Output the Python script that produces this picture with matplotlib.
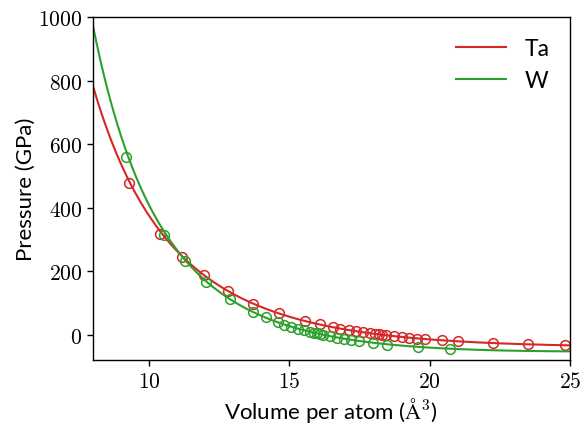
import numpy as np
import matplotlib
matplotlib.use("Agg")
import matplotlib.pyplot as plt
from matplotlib.ticker import FuncFormatter

plt.rcParams['mathtext.fontset'] = 'cm'

# Data
ta_v = [9.29, 10.39, 11.17, 11.96, 12.81, 13.69, 14.62, 15.57, 16.08, 16.56, 16.82,
        17.12, 17.36, 17.63, 17.89, 18.07, 18.19, 18.30, 18.46, 18.73, 19.00, 19.27,
        19.56, 19.82, 20.43, 21.02, 22.24, 23.50, 24.82]
ta_p = [479, 318, 246, 187, 138, 97, 68, 44, 34, 24, 19,
        16, 11.5, 8, 5, 3, 1, 0, -2, -5, -8, -10,
        -13, -14, -18, -20, -26, -29, -31]
w_v = [9.17, 10.55, 11.29, 12.04, 12.87, 13.70, 14.17, 14.60, 14.82, 15.06, 15.30,
       15.54, 15.75, 15.87, 15.99, 16.11, 16.20, 16.46, 16.70, 16.96, 17.21, 17.49,
       17.99, 18.49, 19.58, 20.71]
w_p = [559, 315, 232, 166, 113, 71, 56, 40, 32, 26, 19,
       14, 10, 6, 5, 2, 0, -5, -9, -13, -16, -20,
       -26, -31, -39, -44]

# Birch-Murnaghan fit parameters (V0 [A^3], B0 [GPa], B0')
ta_fit = (18.3, 195.0, 3.85)
w_fit = (16.2, 300.0, 4.25)

labels = ["Ta", "W"]
colors = ["#d62728", "#2ca02c"]


def birch_murnaghan(v, v0, b0, b0p):
    x = (v0 / v) ** (1.0 / 3.0)
    return 1.5 * b0 * (x ** 7 - x ** 5) * (1 + 0.75 * (b0p - 4) * (x ** 2 - 1))


fig = plt.figure(figsize=(5.84, 4.31), dpi=100)
ax = fig.add_axes([0.159, 0.162, 0.817, 0.796])

vgrid = np.linspace(8, 25, 400)
for (vv, pp, fit, lab, col) in [(ta_v, ta_p, ta_fit, labels[0], colors[0]),
                                 (w_v, w_p, w_fit, labels[1], colors[1])]:
    ax.plot(vgrid, birch_murnaghan(vgrid, *fit), color=col, lw=1.5, label=lab)
    ax.plot(vv, pp, 'o', mfc='none', mec=col, ms=7, mew=1.1)

ax.set_xlim(8, 25)
ax.set_ylim(-80, 1000)
ax.set_xticks([10, 15, 20, 25])
ax.set_yticks([0, 200, 400, 600, 800, 1000])

fmt = FuncFormatter(lambda v, p: r"$%d$" % v)
ax.xaxis.set_major_formatter(fmt)
ax.yaxis.set_major_formatter(fmt)
ax.tick_params(labelsize=15.5, length=4, width=1, direction='out', pad=3.5)

lab_font = dict(family='Lato', size=16)
ax.set_xlabel(r"Volume per atom ($\mathrm{\AA}^3$)", fontdict=lab_font, labelpad=3)
ax.set_ylabel("Pressure (GPa)", fontdict=lab_font, labelpad=2)

leg = ax.legend(loc='upper right', frameon=False, prop=dict(family='Lato', size=16.5),
                handlelength=2.2, borderaxespad=0.5, labelspacing=0.5)

for s in ax.spines.values():
    s.set_linewidth(1.0)

fig.savefig("out.png", dpi=100)
